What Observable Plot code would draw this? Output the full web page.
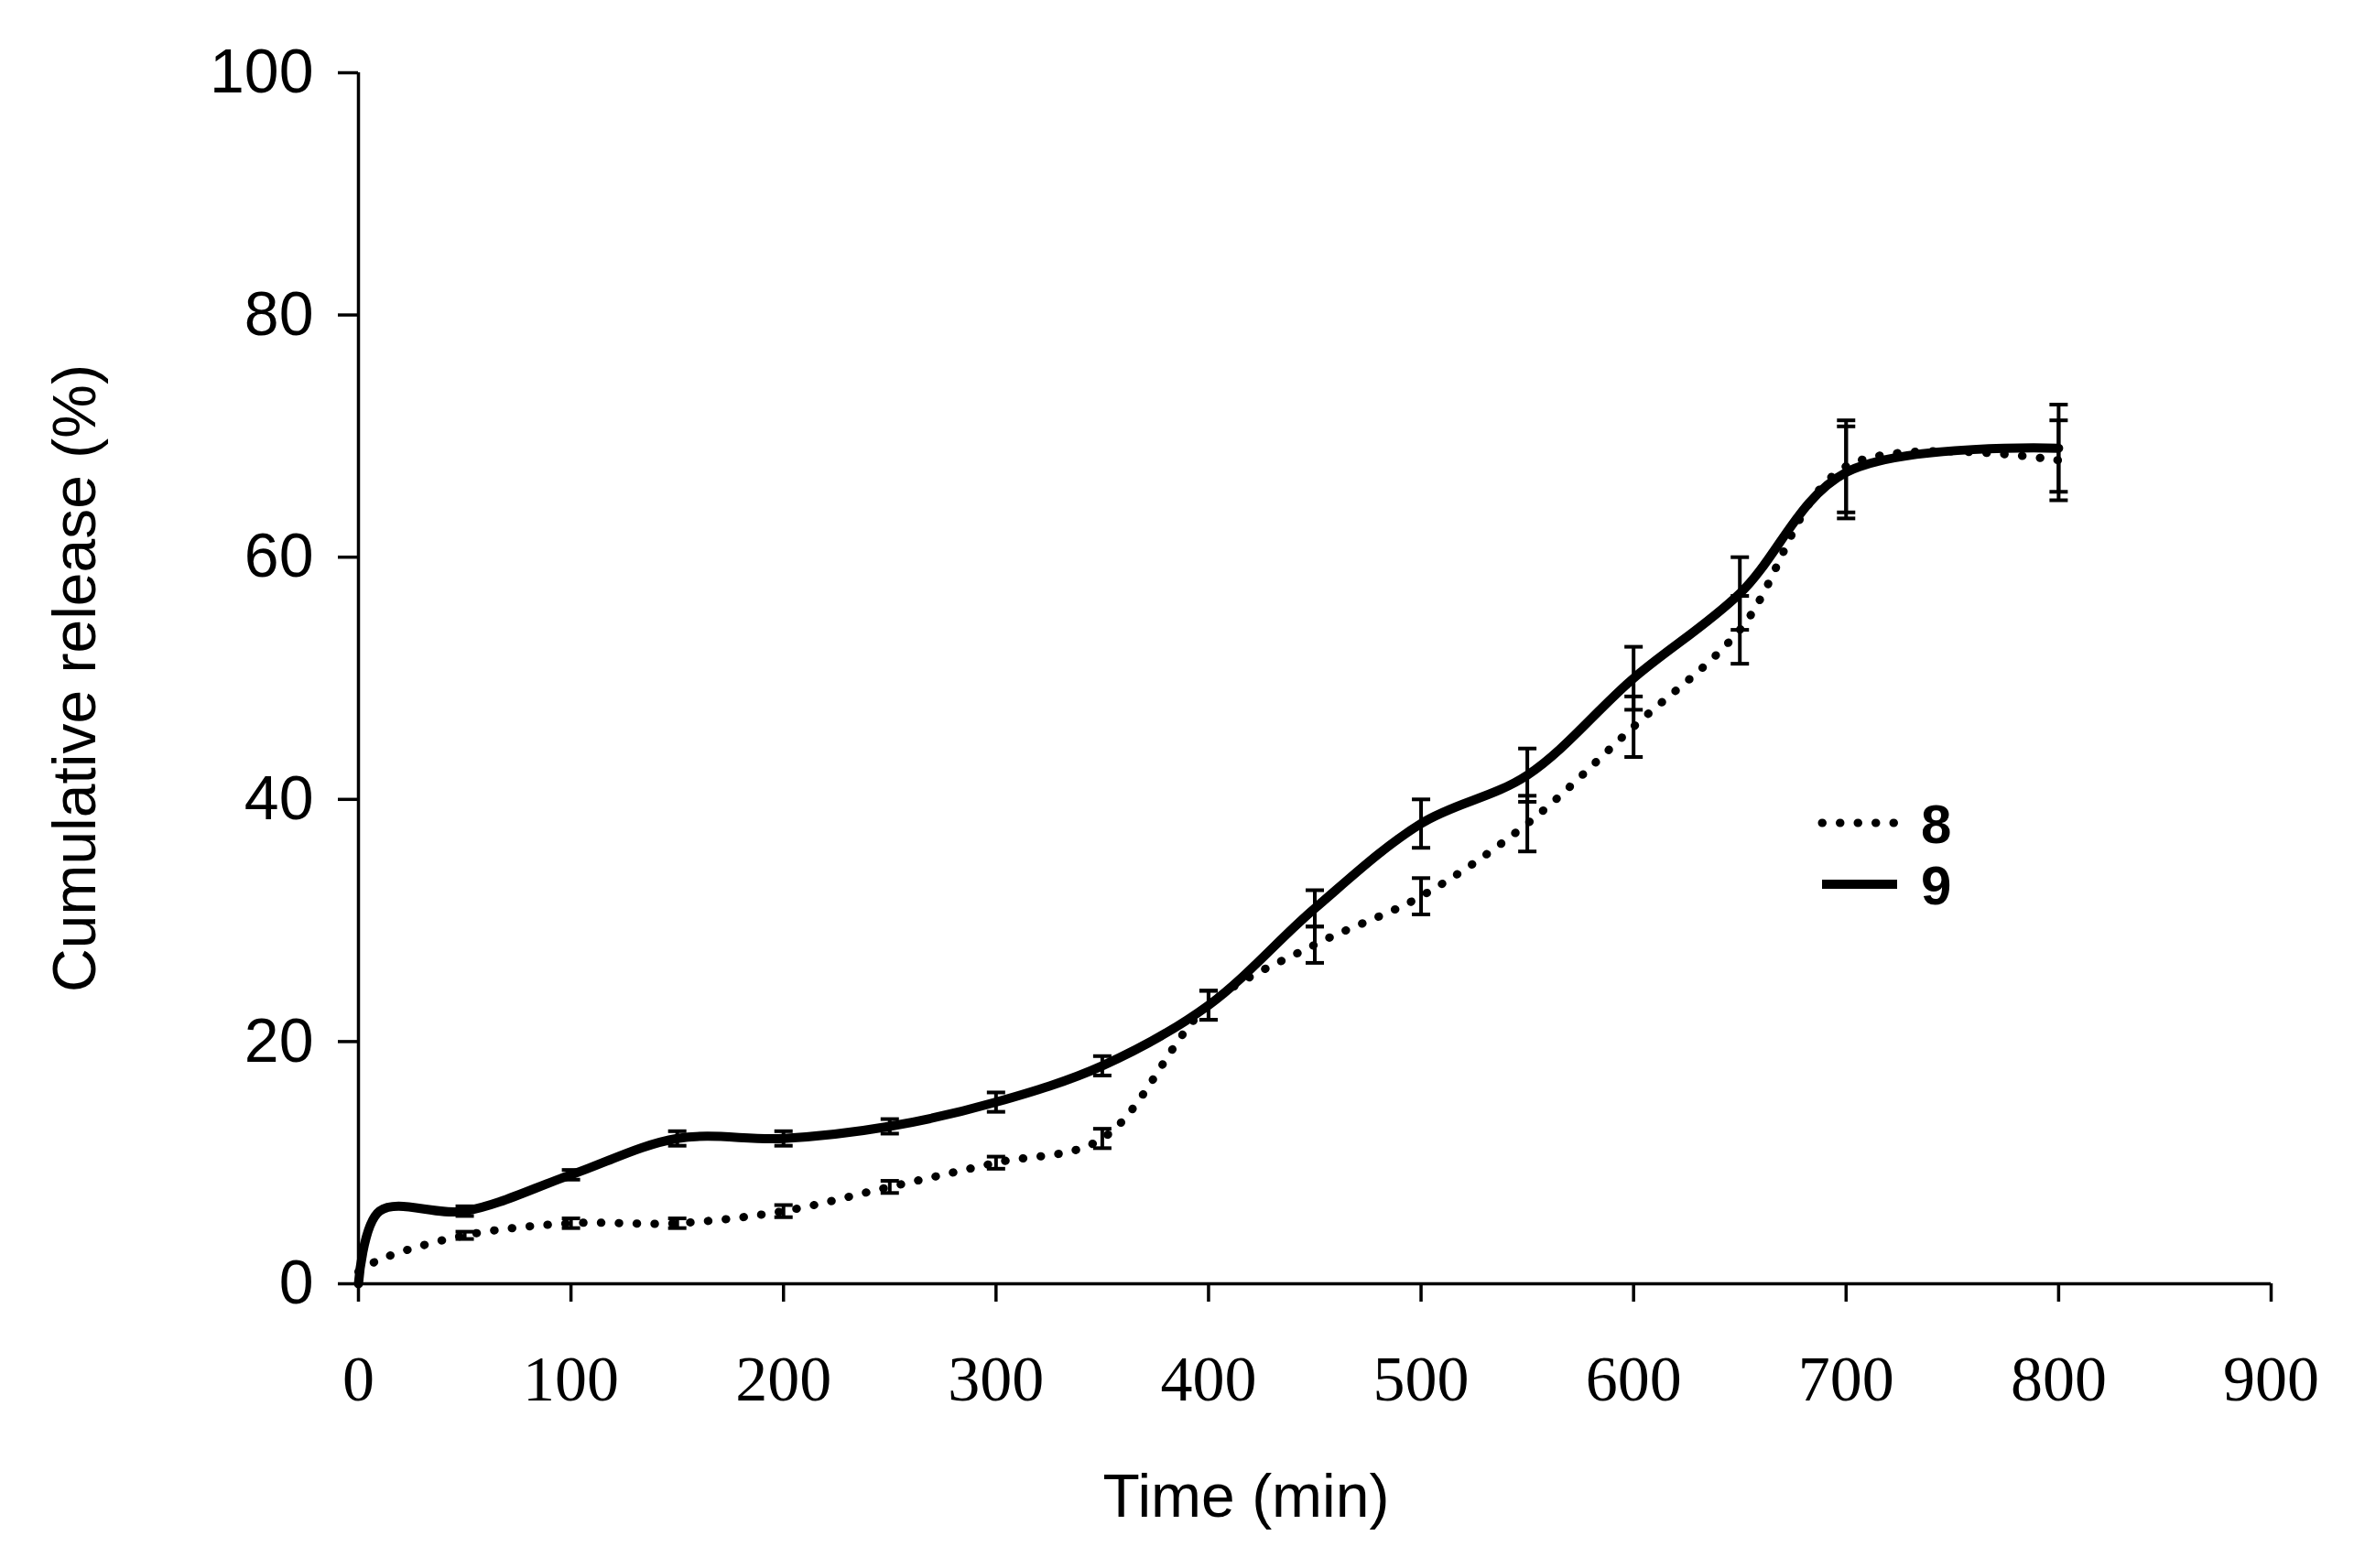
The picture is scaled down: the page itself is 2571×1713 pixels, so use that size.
<!DOCTYPE html>
<html>
<head>
<meta charset="utf-8">
<script src="https://cdn.jsdelivr.net/npm/d3@7"></script>
<script src="https://cdn.jsdelivr.net/npm/@observablehq/plot@0.6"></script>
<style>
  html, body { margin: 0; padding: 0; background: #fff; }
  #wrap { position: relative; width: 2571px; height: 1713px; }
  #legend { position: absolute; left: 0; top: 0; }
</style>
</head>
<body>
<div id="wrap"></div>
<script>
// ---- data ----
const time = [0, 10, 50, 100, 150, 200, 250, 300, 350, 400, 450, 500, 550, 600, 650, 700, 800];
const release8 = [1, 2, 4, 5, 5, 6, 8, 10, 12, 23, 28, 32, 38, 46, 54, 67.5, 68];
const release9 = [0, 6, 6, 9, 12, 12, 13, 15, 18, 23, 31, 38, 42, 50, 57, 67, 69];
const sd8 = [0, 0.3, 0.3, 0.4, 0.4, 0.5, 0.5, 0.5, 0.8, 1.2, 1.5, 1.5, 2.3, 2.5, 2.8, 3.8, 3.3];
const sd9 = [0, 0.4, 0.4, 0.4, 0.6, 0.6, 0.6, 0.8, 0.8, 1.2, 1.5, 2, 2.2, 2.6, 3, 3.8, 3.6];
const xTicks = [0, 100, 200, 300, 400, 500, 600, 700, 800, 900];
const yTicks = [0, 20, 40, 60, 80, 100];
const seriesNames = ["8", "9"];
const xTitle = "Time (min)";
const yTitle = "Cumulative release (%)";

const rows8 = time.map((t, i) => ({t, v: release8[i], sd: sd8[i], s: "8"}));
const rows9 = time.map((t, i) => ({t, v: release9[i], sd: sd9[i], s: "9"}));
const errRows = [...rows8, ...rows9].filter(d => d.t >= 50);

const cap = {draw(ctx, size) { const r = Math.sqrt(size / Math.PI); ctx.moveTo(-r, 0); ctx.lineTo(r, 0); }};

const sans = "'Liberation Sans', Arial, sans-serif";
const serif = "'Liberation Serif', 'Times New Roman', serif";

const chart = Plot.plot({
  width: 2571,
  height: 1713,
  marginLeft: 391,
  marginRight: 91,
  marginTop: 79,
  marginBottom: 311,
  style: {background: "#fff", color: "#000"},
  x: {domain: [0, 900]},
  y: {domain: [0, 100]},
  marks: [
    Plot.axisY({ticks: yTicks, tickSize: 22, tickPadding: 27, strokeWidth: 3.5, fontSize: 68, fontFamily: sans, label: null}),
    Plot.axisX({ticks: xTicks, tickSize: 20, tickPadding: 58, strokeWidth: 3.5, fontSize: 70, fontFamily: serif, label: null}),
    Plot.ruleY([0], {strokeWidth: 3.5}),
    Plot.ruleX([0], {strokeWidth: 3.5}),
    Plot.line(rows8, {x: "t", y: "v", curve: "catmull-rom", stroke: "#000", strokeWidth: 9,
      strokeDasharray: "0.5 19", strokeLinecap: "round"}),
    Plot.line(rows9, {x: "t", y: "v", curve: "catmull-rom", stroke: "#000", strokeWidth: 10}),
    Plot.ruleX(errRows, {x: "t", y1: d => d.v - d.sd, y2: d => d.v + d.sd, stroke: "#000", strokeWidth: 4}),
    Plot.dot(errRows, {x: "t", y: d => d.v + d.sd, symbol: cap, r: 10, stroke: "#000", strokeWidth: 4}),
    Plot.dot(errRows, {x: "t", y: d => d.v - d.sd, symbol: cap, r: 10, stroke: "#000", strokeWidth: 4}),
    Plot.text([xTitle], {frameAnchor: "bottom", dx: -75, dy: 233, lineAnchor: "middle", fontSize: 66, fontFamily: sans, fill: "#000"}),
    Plot.text([yTitle], {frameAnchor: "left", dx: -309, rotate: -90, textAnchor: "middle", lineAnchor: "middle", fontSize: 66, fontFamily: sans, fill: "#000"})
  ]
});
document.getElementById("wrap").appendChild(chart);

// legend overlay
const ns = "http://www.w3.org/2000/svg";
const leg = document.createElementNS(ns, "svg");
leg.setAttribute("id", "legend");
leg.setAttribute("width", 2571);
leg.setAttribute("height", 1713);
const legRows = [
  {name: seriesNames[0], y: 899, dash: "0.5 19", w: 9},
  {name: seriesNames[1], y: 966, dash: null, w: 10}
];
for (const r of legRows) {
  const l = document.createElementNS(ns, "line");
  l.setAttribute("x1", 1990); l.setAttribute("x2", 2072);
  l.setAttribute("y1", r.y); l.setAttribute("y2", r.y);
  l.setAttribute("stroke", "#000"); l.setAttribute("stroke-width", r.w);
  l.setAttribute("stroke-linecap", r.dash ? "round" : "butt");
  if (r.dash) l.setAttribute("stroke-dasharray", r.dash);
  leg.appendChild(l);
  const t = document.createElementNS(ns, "text");
  t.setAttribute("x", 2098); t.setAttribute("y", r.y);
  t.setAttribute("dy", "0.36em");
  t.setAttribute("font-family", sans);
  t.setAttribute("font-weight", "bold");
  t.setAttribute("font-size", 60);
  t.textContent = r.name;
  leg.appendChild(t);
}
document.getElementById("wrap").appendChild(leg);
</script>
</body>
</html>
